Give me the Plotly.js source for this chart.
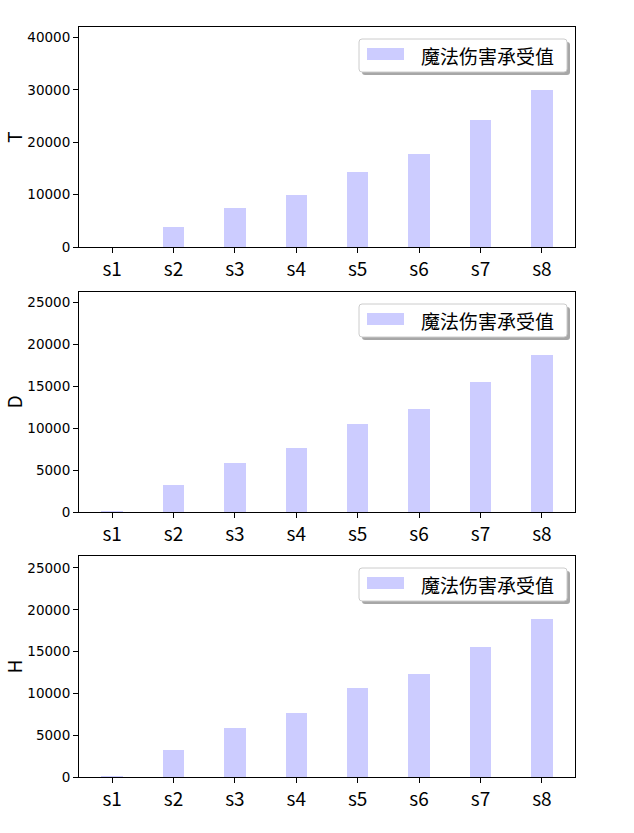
<!DOCTYPE html>
<html>
<head>
<meta charset="utf-8">
<script src="https://cdn.plot.ly/plotly-3.0.1.min.js"></script>
<style>
  html, body { margin: 0; padding: 0; background: #ffffff; }
  #chart { width: 634px; height: 833px; }
</style>
</head>
<body>
<div id="chart"></div>
<script>
const categories = ['s1', 's2', 's3', 's4', 's5', 's6', 's7', 's8']
const seriesName = '魔法伤害承受值'
const tValues = [60, 3800, 7450, 9950, 14350, 17800, 24300, 30000]
const dValues = [150, 3250, 5880, 7670, 10540, 12330, 15550, 18770]
const hValues = [150, 3250, 5880, 7670, 10660, 12330, 15550, 18880]
const panelLabels = ['T', 'D', 'H']
const panelTickSteps = [10000, 5000, 5000]

const W = 634
const H = 833
// pixel -> paper helpers (margins are zero, so paper = whole figure)
const px = x => x / W
const py = y => 1 - y / H

const barColor = '#ccccff'
const tickFont = { family: 'DejaVu Sans', size: 13.5, color: '#000000' }
const bigFont = { family: 'Noto Sans CJK SC', size: 19, color: '#000000' }

// plot area positions in pixels (top, bottom) per panel
const panels = [
  { top: 27, bottom: 247 },
  { top: 292, bottom: 512 },
  { top: 556, bottom: 777 }
]
const plotLeft = 79
const plotRight = 575

const allValues = [tValues, dValues, hValues]

const traces = allValues.map((vals, i) => ({
  x: categories,
  y: vals,
  type: 'bar',
  name: seriesName,
  width: 0.35,
  marker: { color: barColor, line: { width: 0 } },
  xaxis: i === 0 ? 'x' : 'x' + (i + 1),
  yaxis: i === 0 ? 'y' : 'y' + (i + 1),
  showlegend: false,
  hoverinfo: 'x+y'
}))

function roundRectPath(x0, y0, x1, y1, r) {
  // coordinates in pixels, converted to paper
  const P = (x, y) => px(x) + ',' + py(y)
  return 'M' + P(x0 + r, y0) +
    ' L' + P(x1 - r, y0) + ' Q' + P(x1, y0) + ' ' + P(x1, y0 + r) +
    ' L' + P(x1, y1 - r) + ' Q' + P(x1, y1) + ' ' + P(x1 - r, y1) +
    ' L' + P(x0 + r, y1) + ' Q' + P(x0, y1) + ' ' + P(x0, y1 - r) +
    ' L' + P(x0, y0 + r) + ' Q' + P(x0, y0) + ' ' + P(x0 + r, y0) + ' Z'
}

const layout = {
  width: W,
  height: H,
  margin: { l: 0, r: 0, t: 0, b: 0 },
  paper_bgcolor: '#ffffff',
  plot_bgcolor: '#ffffff',
  showlegend: false,
  bargap: 0,
  shapes: [],
  annotations: []
}

panels.forEach((p, i) => {
  const suffix = i === 0 ? '' : String(i + 1)
  const vals = allValues[i]
  layout['xaxis' + suffix] = {
    domain: [px(plotLeft), px(plotRight)],
    anchor: 'y' + suffix,
    type: 'category',
    range: [-0.54, 7.54],
    showline: true,
    mirror: true,
    linecolor: '#000000',
    linewidth: 1,
    ticks: 'outside',
    ticklen: 5,
    tickwidth: 1,
    tickcolor: '#000000',
    tickfont: bigFont,
    showgrid: false,
    zeroline: false,
    fixedrange: true
  }
  layout['yaxis' + suffix] = {
    domain: [py(p.bottom), py(p.top)],
    anchor: 'x' + suffix,
    range: [0, Math.max(...vals) * 1.4],
    dtick: panelTickSteps[i],
    tick0: 0,
    tickformat: 'd',
    showline: true,
    mirror: true,
    linecolor: '#000000',
    linewidth: 1,
    ticks: 'outside',
    ticklen: 5,
    tickwidth: 1,
    tickcolor: '#000000',
    tickfont: tickFont,
    showgrid: false,
    zeroline: false,
    title: { text: panelLabels[i], font: bigFont, standoff: 11 },
    fixedrange: true
  }

  // legend box drawn in the matplotlib style (rounded, with shadow)
  const bx0 = 359, bx1 = 567
  const by0 = p.top + 12, by1 = p.top + 45
  layout.shapes.push({
    type: 'path', xref: 'paper', yref: 'paper',
    path: roundRectPath(bx0 + 3, by0 + 3, bx1 + 3, by1 + 3, 3),
    fillcolor: 'rgba(80,80,80,0.5)', line: { width: 0 }, layer: 'above'
  })
  layout.shapes.push({
    type: 'path', xref: 'paper', yref: 'paper',
    path: roundRectPath(bx0, by0, bx1, by1, 3),
    fillcolor: '#ffffff', line: { color: '#cccccc', width: 1 }, layer: 'above'
  })
  layout.shapes.push({
    type: 'rect', xref: 'paper', yref: 'paper',
    x0: px(367), x1: px(404), y0: py(by0 + 21), y1: py(by0 + 9),
    fillcolor: barColor, line: { width: 0 }, layer: 'above'
  })
  layout.annotations.push({
    xref: 'paper', yref: 'paper',
    x: px(419), y: py((by0 + by1) / 2),
    xanchor: 'left', yanchor: 'middle',
    text: seriesName,
    showarrow: false,
    font: bigFont
  })
})

Plotly.newPlot('chart', traces, layout, { displayModeBar: false, staticPlot: true })
</script>
</body>
</html>
